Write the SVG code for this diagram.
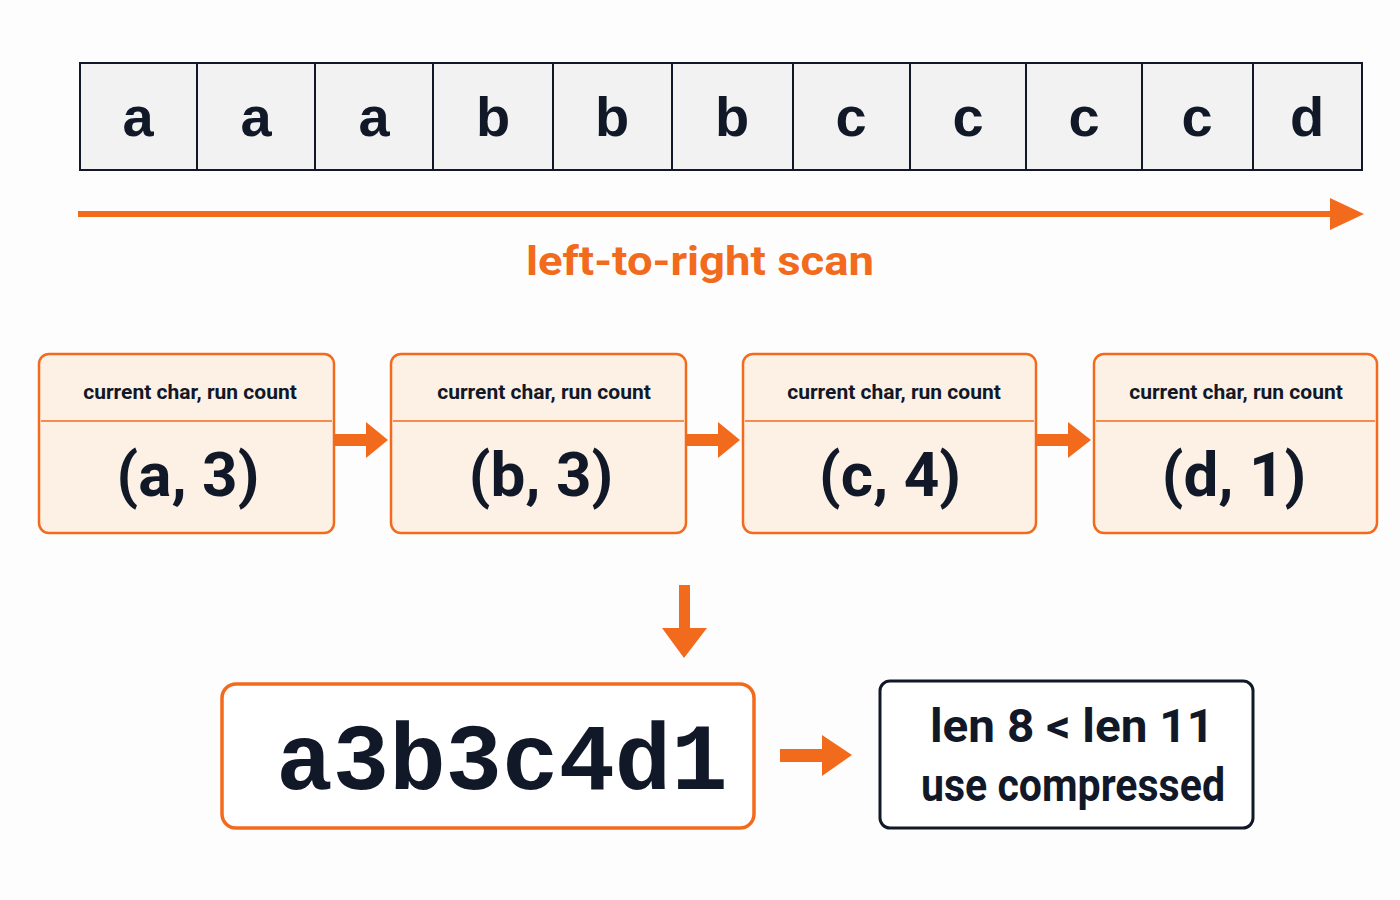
<svg xmlns="http://www.w3.org/2000/svg" width="1400" height="900" viewBox="0 0 1400 900">
<style>
.cell{fill:#f2f2f2;stroke:#111827;stroke-width:2}
.ct{font-family:"Liberation Sans",Arial,sans-serif;font-weight:bold;font-size:56px;fill:#111827;text-anchor:middle}
.st{fill:#fdf1e6;stroke:#f26b1d;stroke-width:2.5}
.hd{font-family:Roboto,"Liberation Sans",sans-serif;font-weight:bold;font-size:21px;fill:#111827;text-anchor:middle}
.pv{font-family:Roboto,"Liberation Sans",sans-serif;font-weight:bold;font-size:62px;fill:#111827;text-anchor:middle}
.or{fill:#f26b1d}
</style>
<rect width="1400" height="900" fill="#fdfdfd"/>
<g id="cells">
<rect class="cell" x="80" y="63" width="117" height="107"/><text class="ct" x="138" y="136">a</text>
<rect class="cell" x="197" y="63" width="118" height="107"/><text class="ct" x="256" y="136">a</text>
<rect class="cell" x="315" y="63" width="118" height="107"/><text class="ct" x="374" y="136">a</text>
<rect class="cell" x="433" y="63" width="120" height="107"/><text class="ct" x="493" y="136">b</text>
<rect class="cell" x="553" y="63" width="119" height="107"/><text class="ct" x="612" y="136">b</text>
<rect class="cell" x="672" y="63" width="121" height="107"/><text class="ct" x="732" y="136">b</text>
<rect class="cell" x="793" y="63" width="117" height="107"/><text class="ct" x="851" y="136">c</text>
<rect class="cell" x="910" y="63" width="116" height="107"/><text class="ct" x="968" y="136">c</text>
<rect class="cell" x="1026" y="63" width="116" height="107"/><text class="ct" x="1084" y="136">c</text>
<rect class="cell" x="1142" y="63" width="111" height="107"/><text class="ct" x="1197" y="136">c</text>
<rect class="cell" x="1253" y="63" width="109" height="107"/><text class="ct" x="1307" y="136">d</text>
</g>
<g id="scan">
<rect class="or" x="78" y="211" width="1252" height="6"/>
<polygon class="or" points="1330,198 1364,214 1330,230"/>
<text x="700" y="275" font-family="Roboto,'Liberation Sans',sans-serif" font-weight="bold" font-size="40" fill="#f26b1d" text-anchor="middle" textLength="348" lengthAdjust="spacingAndGlyphs">left-to-right scan</text>
</g>
<g id="s1"><rect class="st" x="39" y="354" width="295" height="179" rx="10"/><line x1="41" y1="421" x2="332" y2="421" stroke="#f26b1d" stroke-width="1.5"/><text class="hd" x="190" y="399">current char, run count</text><text class="pv" x="188" y="496">(a, 3)</text></g>
<g id="s2"><rect class="st" x="391" y="354" width="295" height="179" rx="10"/><line x1="393" y1="421" x2="684" y2="421" stroke="#f26b1d" stroke-width="1.5"/><text class="hd" x="544" y="399">current char, run count</text><text class="pv" x="541" y="496">(b, 3)</text></g>
<g id="s3"><rect class="st" x="743" y="354" width="293" height="179" rx="10"/><line x1="745" y1="421" x2="1034" y2="421" stroke="#f26b1d" stroke-width="1.5"/><text class="hd" x="894" y="399">current char, run count</text><text class="pv" x="890" y="496">(c, 4)</text></g>
<g id="s4"><rect class="st" x="1094" y="354" width="283" height="179" rx="10"/><line x1="1096" y1="421" x2="1375" y2="421" stroke="#f26b1d" stroke-width="1.5"/><text class="hd" x="1236" y="399">current char, run count</text><text class="pv" x="1234" y="496">(d, 1)</text></g>
<g id="result"><rect x="222" y="684" width="532" height="144" rx="14" fill="#fff" stroke="#f26b1d" stroke-width="3.5"/><text x="502" y="789" font-family="'Liberation Mono',monospace" font-weight="bold" font-size="94" fill="#111827" text-anchor="middle">a3b3c4d1</text></g>
<g id="check"><rect x="880" y="681" width="373" height="147" rx="10" fill="#fff" stroke="#111827" stroke-width="3"/><text x="1072" y="742" font-family="Roboto,'Liberation Sans',sans-serif" font-weight="bold" font-size="46" fill="#111827" text-anchor="middle" textLength="284" lengthAdjust="spacingAndGlyphs">len 8 &lt; len 11</text><text x="1073" y="801" font-family="Roboto,'Liberation Sans',sans-serif" font-weight="bold" font-size="46" fill="#111827" text-anchor="middle" textLength="304" lengthAdjust="spacingAndGlyphs">use compressed</text></g>
<g id="connectors" class="or">
<rect x="334" y="434" width="34" height="12"/><polygon points="366,422 388,440 366,458"/>
<rect x="686" y="434" width="34" height="12"/><polygon points="718,422 740,440 718,458"/>
<rect x="1036" y="434" width="34" height="12"/><polygon points="1068,422 1091,440 1068,458"/>
<rect x="679" y="585" width="11" height="45"/><polygon points="662,628 707,628 684,658"/>
<rect x="780" y="749" width="44" height="13"/><polygon points="822,735 852,755 822,776"/>
</g>
</svg>
